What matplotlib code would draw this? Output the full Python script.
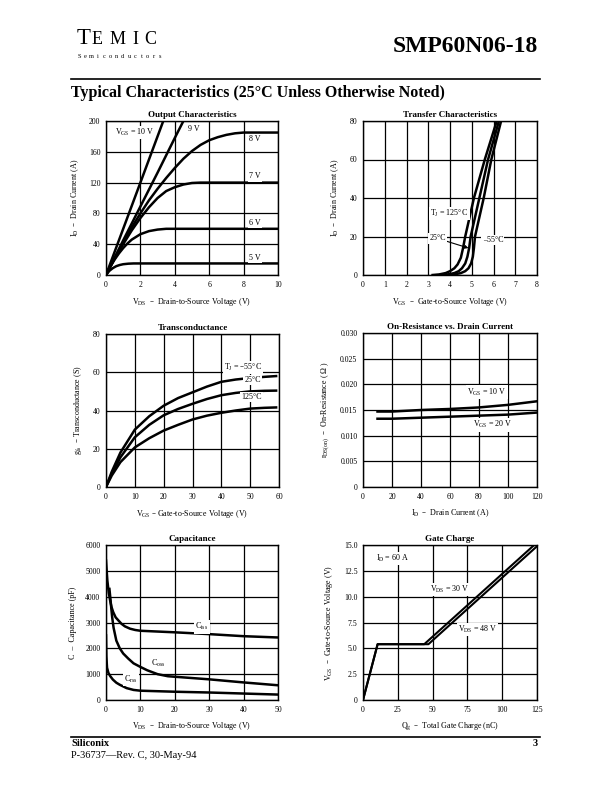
import numpy as np
import matplotlib
matplotlib.use("Agg")
import matplotlib.pyplot as plt

plt.rcParams['font.family'] = ['Liberation Serif', 'DejaVu Serif']
plt.rcParams['mathtext.default'] = 'regular'

# ---- Output characteristics (I_D vs V_DS for several V_GS)
out_vds_10 = [0, 1, 2, 3.33]
out_id_10 = [0, 60, 120, 200]
out_vds_9 = [0, 1, 2, 3, 4, 4.5]
out_id_9 = [0, 45, 89, 133, 178, 200]
out_vds_8 = [0, 0.5, 1, 1.5, 2, 2.5, 3, 3.5, 4, 4.5, 5, 5.5, 6, 6.5, 7, 7.5, 8, 10]
out_id_8 = [0, 22, 42, 62, 80, 97, 112, 126, 139, 151, 161, 169, 175, 179, 182, 184, 185, 185]
out_vds_7 = [0, 0.5, 1, 1.5, 2, 2.5, 3, 3.5, 4, 4.5, 5, 5.5, 10]
out_id_7 = [0, 21, 40, 58, 74, 88, 100, 109, 114, 117.5, 119.5, 120, 120]
out_vds_6 = [0, 0.25, 0.5, 0.75, 1, 1.25, 1.5, 2, 2.5, 3, 3.5, 10]
out_id_6 = [0, 11, 20, 28, 35, 41, 46, 53, 57, 59, 60, 60]
out_vds_5 = [0, 0.2, 0.4, 0.6, 0.8, 1, 1.3, 1.6, 10]
out_id_5 = [0, 5.5, 9, 11.5, 13, 14, 14.7, 15, 15]

# ---- Transfer characteristics (I_D vs V_GS at three T_J)
tr_vgs_125 = [3.2, 3.5, 3.8, 4.0, 4.2, 4.35, 4.5, 4.6, 4.7, 5.1, 5.6, 6.15]
tr_id_125 = [0, 0.3, 1, 2, 3.5, 5.5, 9, 14, 20, 40, 60, 80]
tr_vgs_25 = [3.6, 3.9, 4.2, 4.4, 4.55, 4.7, 4.8, 4.88, 4.95, 5.35, 5.75, 6.25]
tr_id_25 = [0, 0.3, 1, 2, 3.5, 6, 9.5, 14, 20, 40, 60, 80]
tr_vgs_m55 = [3.9, 4.2, 4.5, 4.7, 4.85, 4.97, 5.05, 5.1, 5.15, 5.55, 5.9, 6.35]
tr_id_m55 = [0, 0.3, 1, 2, 3.5, 6, 9.5, 14, 20, 40, 60, 80]

# ---- Transconductance
gfs_vgs = [0, 2, 5, 10, 15, 20, 25, 30, 35, 40, 45, 50, 55, 59]
gfs_m55 = [0, 8, 18, 30, 37, 42.5, 46.5, 49.5, 52.5, 55, 56.2, 57, 57.6, 58]
gfs_25 = [0, 7, 15.5, 26, 32.5, 37.5, 40.8, 43.5, 46, 48, 49.2, 50, 50.3, 50.4]
gfs_125 = [0, 6, 13, 20.7, 25.5, 29.5, 32.5, 35.3, 37.3, 38.8, 40, 41, 41.4, 41.6]

# ---- On-resistance vs drain current
ron_id = [10, 20, 40, 60, 80, 100, 120]
ron_10v = [0.0147, 0.0147, 0.0150, 0.0152, 0.0155, 0.0160, 0.0167]
ron_20v = [0.0133, 0.0133, 0.0135, 0.0137, 0.0139, 0.0141, 0.0145]
ron_ticks = ["0", "0.005", "0.010", "0.015", "0.020", "0.025", "0.030"]

# ---- Capacitance
ciss_v = [0, 0.2, 0.4, 0.8, 1.2, 1.6, 2.1, 2.8, 3.6, 4.5, 5.5, 7, 8.5, 10, 20, 30, 40, 50]
ciss_c = [5400, 5000, 4620, 4150, 3850, 3600, 3400, 3200, 3080, 2950, 2850, 2760, 2710,
          2680, 2620, 2550, 2470, 2420]
coss_v = [1.0, 1.3, 1.5, 1.8, 2.2, 3, 4, 5, 6.5, 8, 10, 12, 15, 18, 20, 30, 40, 50]
coss_c = [4300, 3900, 3600, 3200, 2800, 2300, 2000, 1800, 1600, 1420, 1280, 1150, 1000,
          920, 900, 800, 680, 570]
crss_v = [0, 0.1, 0.3, 0.7, 1.2, 2, 3, 4, 6, 8, 10, 20, 30, 40, 50]
crss_c = [2500, 1700, 1250, 1050, 930, 790, 670, 590, 460, 390, 360, 320, 290, 250, 210]

# ---- Gate charge
gc_q_30 = [0, 10.5, 44, 123]
gc_v_30 = [0, 5.4, 5.4, 15.0]
gc_q_48 = [0, 10.5, 47, 126]
gc_v_48 = [0, 5.4, 5.4, 15.0]
gc_ticks = ["0", "2.5", "5.0", "7.5", "10.0", "12.5", "15.0"]

W, H = 612, 792
fig = plt.figure(figsize=(W / 100, H / 100), dpi=100)


def box(left, top, right, bottom):
    return [left / W, (H - bottom) / H, (right - left) / W, (bottom - top) / H]


def setup(ax, xlim, ylim, xticks, yticks, title, xlabel, ylabel, ylabels=None):
    ax.set_xlim(xlim)
    ax.set_ylim(ylim)
    ax.set_xticks(xticks)
    ax.set_yticks(yticks)
    if ylabels is not None:
        ax.set_yticklabels(ylabels)
    ax.grid(True, color='black', lw=0.9)
    ax.set_axisbelow(True)
    ax.tick_params(length=0, pad=4, labelsize=5.6)
    for s in ax.spines.values():
        s.set_linewidth(1.0)
    ax.set_title(title, fontsize=6.5, fontweight='bold', pad=3)
    ax.set_xlabel(xlabel, fontsize=5.8, labelpad=5)
    ax.set_ylabel(ylabel, fontsize=5.8, labelpad=6)


LW = 1.8
lab = dict(fontsize=5.8, bbox=dict(fc='white', ec='none', pad=0.8))

# Output characteristics
ax = fig.add_axes(box(106, 121, 278, 275))
for vx, iy in [(out_vds_10, out_id_10), (out_vds_9, out_id_9), (out_vds_8, out_id_8),
               (out_vds_7, out_id_7), (out_vds_6, out_id_6), (out_vds_5, out_id_5)]:
    ax.plot(vx, iy, color='black', lw=LW, solid_capstyle='butt')
setup(ax, (0, 10), (0, 200), range(0, 11, 2), range(0, 201, 40),
      "Output Characteristics", r"V$_{DS}$  –  Drain-to-Source Voltage (V)",
      r"I$_D$  –  Drain Current (A)")
ax.text(0.5, 185, r"V$_{GS}$ = 10 V", va='center', **lab)
ax.text(4.75, 189, "9 V", va='center', **lab)
ax.text(8.3, 177, "8 V", va='center', **lab)
ax.text(8.3, 128, "7 V", va='center', **lab)
ax.text(8.3, 68, "6 V", va='center', **lab)
ax.text(8.3, 22, "5 V", va='center', **lab)

# Transfer characteristics
ax = fig.add_axes(box(363, 121, 537, 275))
for vx, iy in [(tr_vgs_125, tr_id_125), (tr_vgs_25, tr_id_25), (tr_vgs_m55, tr_id_m55)]:
    ax.plot(vx, iy, color='black', lw=LW)
setup(ax, (0, 8), (0, 80), range(0, 9), range(0, 81, 20),
      "Transfer Characteristics", r"V$_{GS}$  –  Gate-to-Source Voltage (V)",
      r"I$_D$  –  Drain Current (A)")
ax.text(3.1, 32, r"T$_J$ = 125$\degree$C", va='center', **lab)
ax.annotate("25°C", xy=(4.85, 14), xytext=(3.05, 19), va='center',
            arrowprops=dict(arrowstyle='-|>', lw=0.8, color='black',
                            mutation_scale=5, shrinkA=0, shrinkB=0), **lab)
ax.text(5.5, 18, "–55°C", va='center', **lab)

# Transconductance
ax = fig.add_axes(box(106, 334, 279, 487))
for g in [gfs_m55, gfs_25, gfs_125]:
    ax.plot(gfs_vgs, g, color='black', lw=LW)
setup(ax, (0, 60), (0, 80), range(0, 61, 10), range(0, 81, 20),
      "Transconductance", r"V$_{GS}$ – Gate-to-Source Voltage (V)",
      r"g$_{fs}$  – Transconductance (S)")
ax.text(41, 62.5, r"T$_J$ = –55°C", va='center', **lab)
ax.text(48, 55.8, "25°C", va='center', **lab)
ax.text(47, 47, "125°C", va='center', **lab)

# On-resistance vs drain current
ax = fig.add_axes(box(363, 333, 537, 487))
ax.plot(ron_id, ron_10v, color='black', lw=LW)
ax.plot(ron_id, ron_20v, color='black', lw=LW)
setup(ax, (0, 120), (0, 0.030), range(0, 121, 20), np.linspace(0, 0.030, 7),
      "On-Resistance vs. Drain Current", r"I$_D$  –  Drain Current (A)",
      r"r$_{DS(on)}$  –  On-Resistance ( $\Omega$ )", ron_ticks)
ax.text(72, 0.0185, r"V$_{GS}$ = 10 V", va='center', **lab)
ax.text(76, 0.0121, r"V$_{GS}$ = 20 V", va='center', **lab)

# Capacitance
ax = fig.add_axes(box(106, 545, 278, 700))
for vx, cy in [(ciss_v, ciss_c), (coss_v, coss_c), (crss_v, crss_c)]:
    ax.plot(vx, cy, color='black', lw=LW)
setup(ax, (0, 50), (0, 6000), range(0, 51, 10), range(0, 6001, 1000),
      "Capacitance", r"V$_{DS}$  –  Drain-to-Source Voltage (V)",
      r"C  –  Capacitance (pF)")
ax.text(26, 2830, r"C$_{iss}$", va='center', **lab)
ax.text(13, 1410, r"C$_{oss}$", va='center', **lab)
ax.text(5.3, 800, r"C$_{rss}$", va='center', **lab)

# Gate charge
ax = fig.add_axes(box(363, 545, 537, 700))
ax.plot(gc_q_30, gc_v_30, color='black', lw=1.5)
ax.plot(gc_q_48, gc_v_48, color='black', lw=1.5)
setup(ax, (0, 125), (0, 15), range(0, 126, 25), np.linspace(0, 15, 7),
      "Gate Charge", r"Q$_g$  –  Total Gate Charge (nC)",
      r"V$_{GS}$  –  Gate-to-Source Voltage (V)", gc_ticks)
ax.text(9, 13.7, r"I$_D$ = 60 A", va='center', **lab)
ax.text(48, 10.7, r"V$_{DS}$ = 30 V", va='center', **lab)
ax.text(68, 6.8, r"V$_{DS}$ = 48 V", va='center', **lab)

# ---- page header / footer
page = fig.add_axes([0, 0, 1, 1])
page.set_xlim(0, W)
page.set_ylim(H, 0)
page.axis('off')
page.text(77, 44, "T", fontsize=16.5, va='baseline')
for ch, x in zip("EMIC", [91.7, 109.3, 132, 144.6]):
    page.text(x, 44, ch, fontsize=13, va='baseline')
for i, ch in enumerate("Semiconductors"):
    page.text(79 + i * 6.25, 56.5, ch, fontsize=4.6, ha='center', va='center')
page.text(538, 52, "SMP60N06-18", fontsize=17, fontweight='bold', ha='right', va='baseline')
page.plot([71, 540], [79, 79], color='black', lw=1.2)
page.text(71, 97, "Typical Characteristics (25°C Unless Otherwise Noted)",
          fontsize=11.5, fontweight='bold', va='baseline')
page.plot([71, 540], [737, 737], color='black', lw=1.2)
page.text(71, 744, "Siliconix", fontsize=7.5, fontweight='bold', va='center')
page.text(71, 756, "P-36737—Rev. C, 30-May-94", fontsize=7.5, va='center')
page.text(538, 744, "3", fontsize=7.5, fontweight='bold', ha='right', va='center')

fig.savefig("out.png", dpi=100)
